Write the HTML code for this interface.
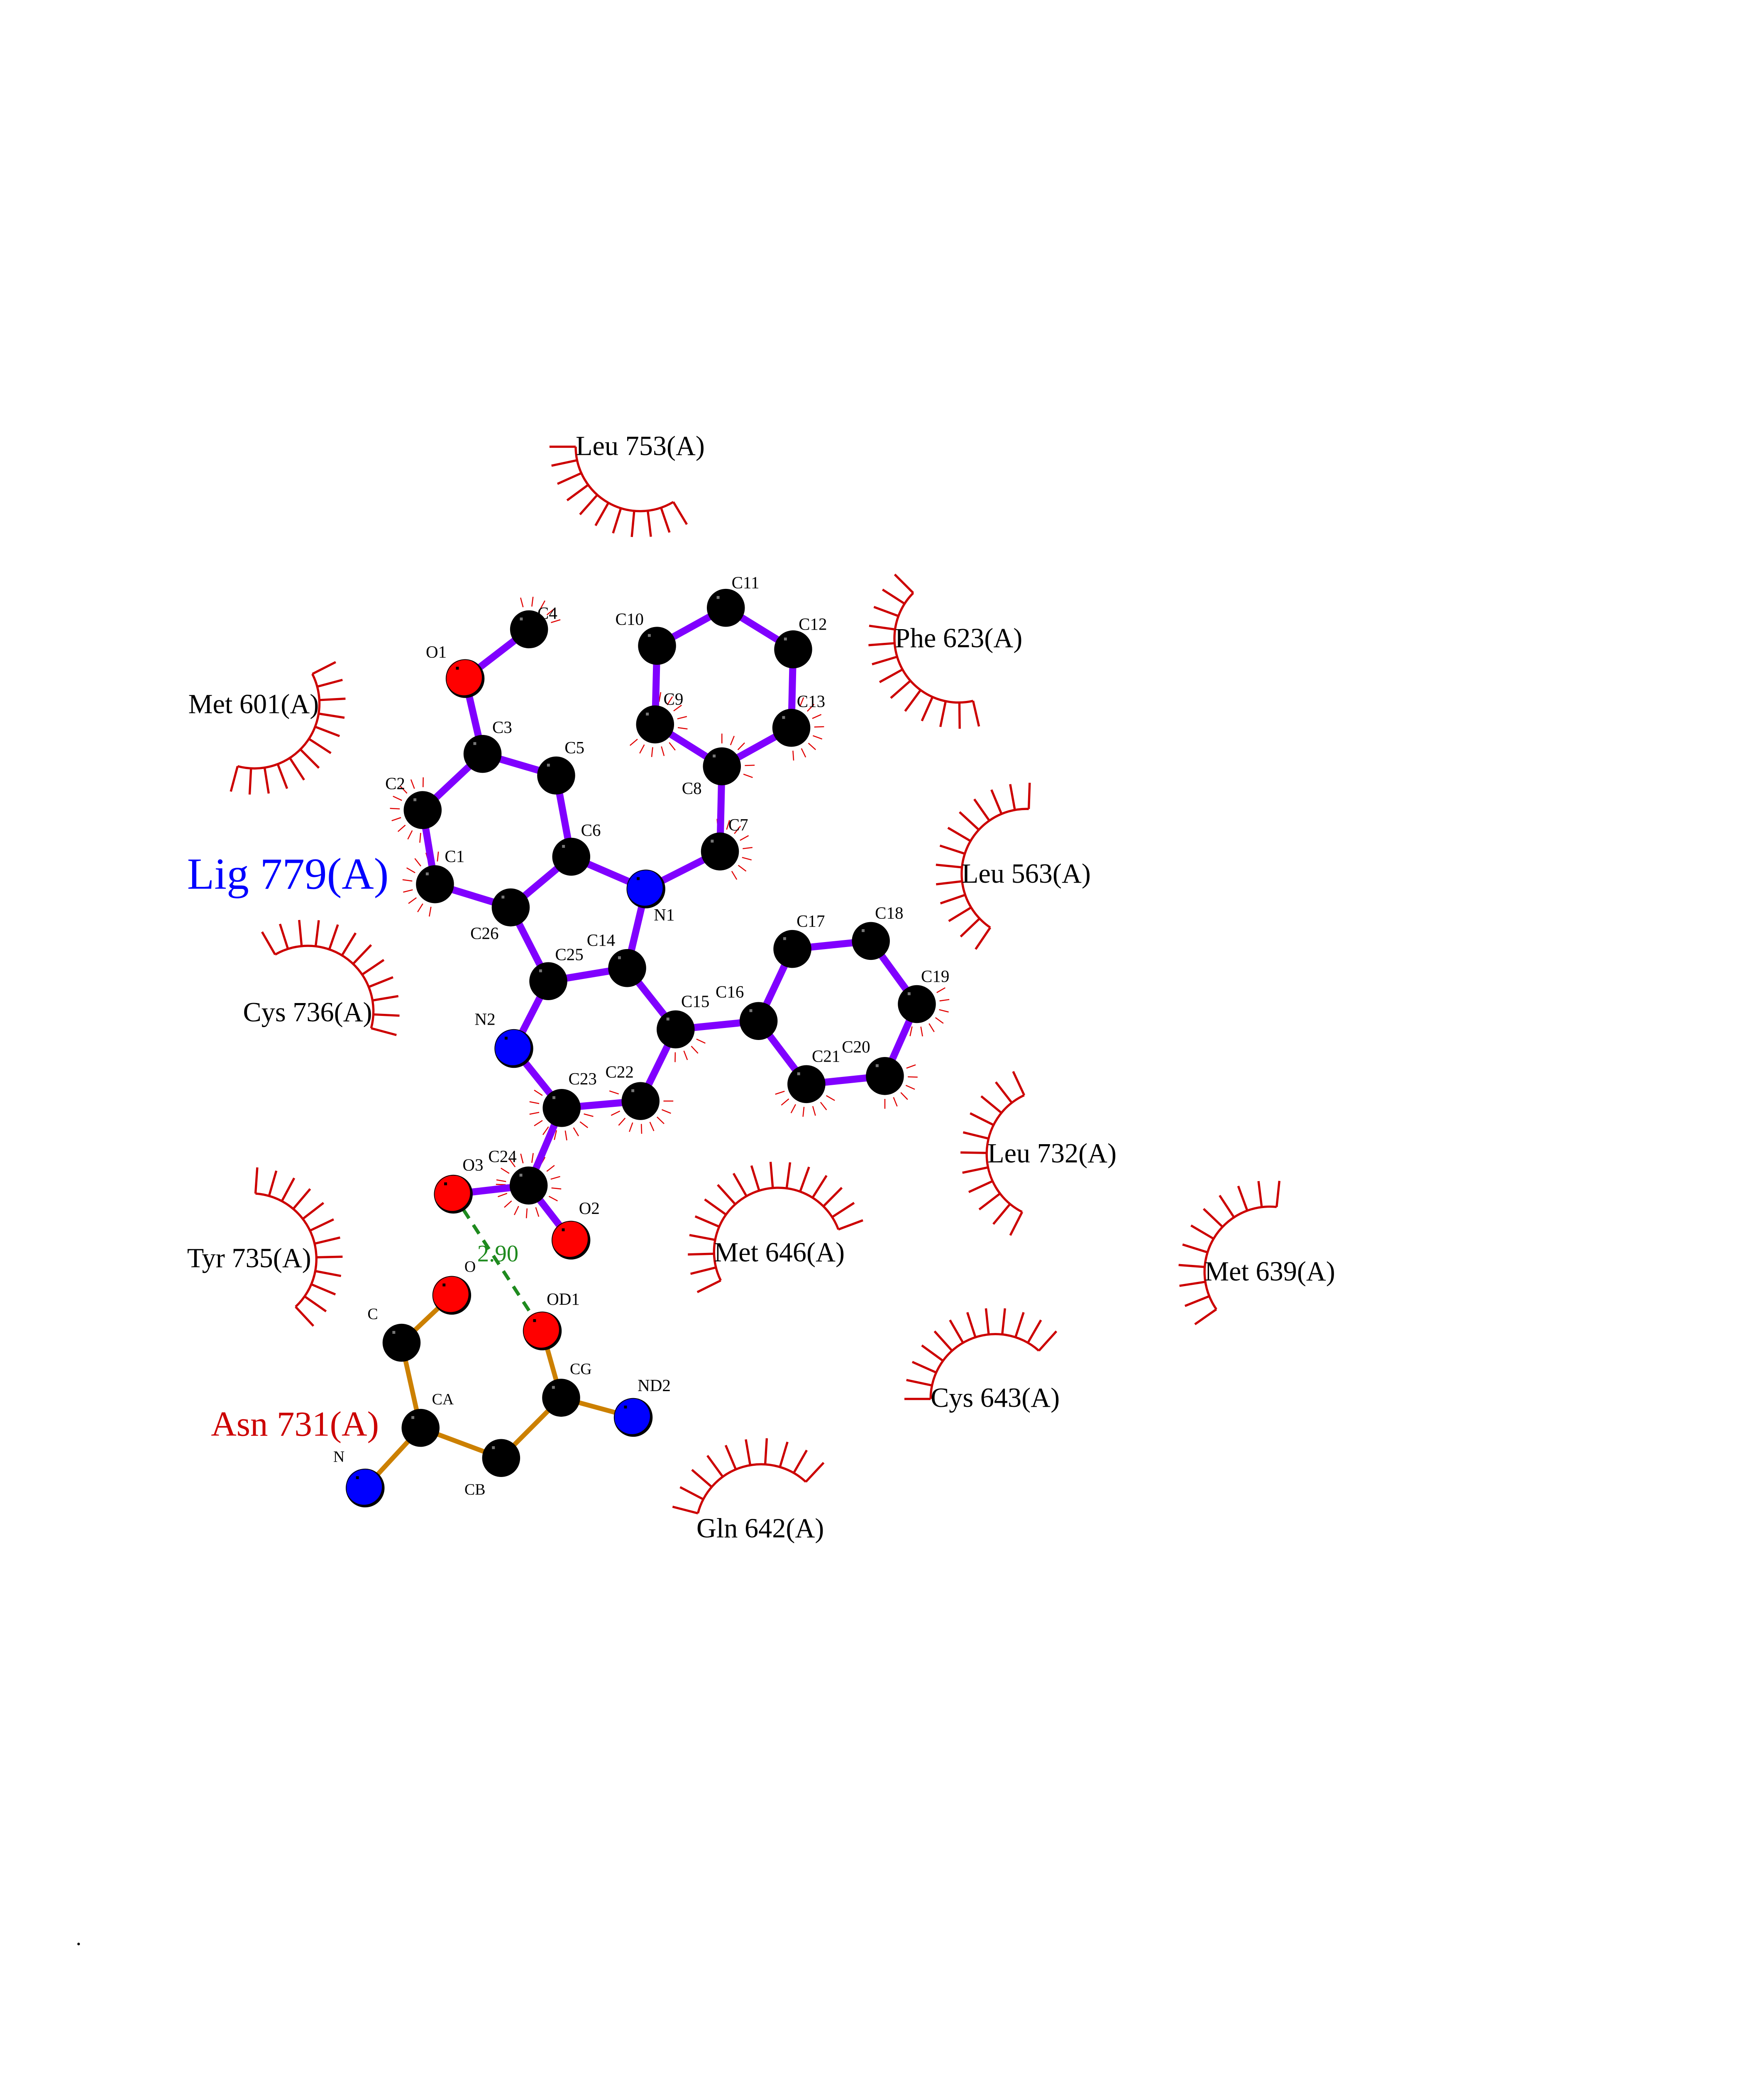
<!DOCTYPE html>
<html><head><meta charset="utf-8">
<style>
html,body{margin:0;padding:0;background:#fff;width:100%;height:100%;overflow:hidden;}
svg{display:block;position:absolute;left:0;top:0;height:100vh;width:calc(100vh * 4250 / 5500);}
text{font-family:"Liberation Serif",serif;}
</style></head>
<body>
<svg id="s" xmlns="http://www.w3.org/2000/svg" viewBox="0 0 1224 1584" preserveAspectRatio="xMinYMin meet">
<rect width="1224" height="1584" fill="#fff"/>
<g id="arcs" fill="none" stroke="#cc0000" stroke-width="1.7"></g>
<g id="ticks" stroke="#e00000" stroke-width="0.8"></g>
<g id="bonds" stroke-linecap="butt"></g>
<line x1="346" y1="911.6" x2="413.9" y2="1016" stroke="#1e8a1e" stroke-width="2.6" stroke-dasharray="8,6"/>
<g id="atoms"></g>
<g id="labels" font-size="13" fill="#000" text-anchor="middle"></g>
<text x="380" y="963" font-size="18" fill="#1e8a1e" text-anchor="middle">2.90</text>
<g font-size="21" fill="#000">
<text x="439.4" y="347.4">Leu 753(A)</text>
<text x="683" y="494">Phe 623(A)</text>
<text x="143.7" y="544.4">Met 601(A)</text>
<text x="734" y="673.8">Leu 563(A)</text>
<text x="185.5" y="779.7">Cys 736(A)</text>
<text x="753.7" y="887.4">Leu 732(A)</text>
<text x="545" y="963">Met 646(A)</text>
<text x="142.8" y="967.4">Tyr 735(A)</text>
<text x="919.4" y="977.5">Met 639(A)</text>
<text x="710.3" y="1074">Cys 643(A)</text>
<text x="531.6" y="1173.6">Gln 642(A)</text>
</g>
<text x="142.8" y="678.5" font-size="34" fill="#0000ff">Lig 779(A)</text>
<text x="161" y="1096" font-size="27" fill="#cc0000">Asn 731(A)</text>
<circle cx="60" cy="1484" r="1" fill="#000"/>
</svg>
<script>
(function(){
var NS="http://www.w3.org/2000/svg";
function el(p,t,a,txt){var e=document.createElementNS(NS,t);for(var k in a)e.setAttribute(k,a[k]);if(txt!==undefined)e.textContent=txt;document.getElementById(p).appendChild(e);return e;}
var A={
C4:[403.8,480.4,'k'],O1:[355,518,'r'],C3:[368.3,575.5,'k'],C5:[424.5,592,'k'],C2:[322.6,618.4,'k'],C1:[332,675,'k'],
C6:[436,654,'k'],N1:[493,678.6,'b'],C7:[549.5,650,'k'],C8:[551,585,'k'],C9:[500,553,'k'],C10:[501.5,493,'k'],
C11:[554,464,'k'],C12:[605.4,495.7,'k'],C13:[604,555.6,'k'],C26:[389.8,692.7,'k'],C25:[418.5,749,'k'],C14:[478.7,739,'k'],
N2:[392.2,800.4,'b'],C15:[515.7,785.8,'k'],C16:[579,779.4,'k'],C17:[604.8,724.4,'k'],C18:[664.7,718.3,'k'],C19:[699.8,766.5,'k'],
C20:[675.4,821.4,'k'],C21:[615.5,827.6,'k'],C23:[428.7,845.8,'k'],C22:[488.9,840.5,'k'],C24:[403.5,905,'k'],O3:[346,911.6,'r'],
O2:[435.8,946.7,'r'],
O:[344.8,988.8,'r'],C:[306.5,1025,'k'],OD1:[413.9,1016,'r'],CG:[428.3,1067,'k'],ND2:[483.3,1082,'b'],CA:[321,1090,'k'],CB:[382.5,1113,'k'],N:[278.7,1135.9,'b']
};
var lig=[['C4','O1'],['O1','C3'],['C3','C5'],['C3','C2'],['C2','C1'],['C1','C26'],['C26','C6'],['C6','C5'],['C6','N1'],['N1','C7'],['C7','C8'],['C8','C9'],['C9','C10'],['C10','C11'],['C11','C12'],['C12','C13'],['C13','C8'],['N1','C14'],['C14','C25'],['C25','C26'],['C25','N2'],['N2','C23'],['C23','C22'],['C22','C15'],['C15','C14'],['C15','C16'],['C16','C17'],['C17','C18'],['C18','C19'],['C19','C20'],['C20','C21'],['C21','C16'],['C23','C24'],['C24','O3'],['C24','O2']];
var asn=[['N','CA'],['CA','C'],['C','O'],['CA','CB'],['CB','CG'],['CG','OD1'],['CG','ND2']];
lig.forEach(function(b){var p=A[b[0]],q=A[b[1]];el('bonds','line',{x1:p[0],y1:p[1],x2:q[0],y2:q[1],stroke:'#8000ff','stroke-width':5.4});});
asn.forEach(function(b){var p=A[b[0]],q=A[b[1]];el('bonds','line',{x1:p[0],y1:p[1],x2:q[0],y2:q[1],stroke:'#cc8000','stroke-width':3.6});});
var col={k:'#000',r:'#ff0000',b:'#0000ff'};
for(var k in A){var a=A[k];
 if(a[2]=='k'){el('atoms','circle',{cx:a[0],cy:a[1],r:14.5,fill:'#000'});}
 else{el('atoms','circle',{cx:a[0],cy:a[1],r:14.5,fill:'#000'});
  el('atoms','circle',{cx:a[0]-0.9,cy:a[1]-0.9,r:13.7,fill:col[a[2]]});
  el('atoms','circle',{cx:a[0],cy:a[1],r:14.5,fill:'none',stroke:'#000','stroke-width':0.6});}
 el('atoms','rect',{x:a[0]-7,y:a[1]-9,width:2.2,height:2.2,fill:a[2]=='k'?'#777':'#000'});
}
var L={C4:[14,-12],O1:[-22,-20],C3:[15,-20],C5:[14,-21],C2:[-21,-20],C1:[15,-21],C6:[15,-20],N1:[14,20],C7:[14,-20],C8:[-23,17],C9:[14,-19],C10:[-21,-20],
C11:[15,-19],C12:[15,-19],C13:[15,-20],C26:[-20,20],C25:[16,-20],C14:[-20,-21],N2:[-22,-22],C15:[15,-21],C16:[-22,-22],C17:[14,-21],C18:[14,-21],C19:[14,-21],
C20:[-22,-22],C21:[15,-21],C23:[16,-22],C22:[-16,-22],C24:[-20,-22],O3:[15,-22],O2:[14,-24],O:[14,-22],C:[-22,-22],OD1:[16,-24],CG:[15,-22],ND2:[16,-24],CA:[17,-22],CB:[-20,24],N:[-20,-24]};
for(var k in L){var a=A[k];
 el('labels','text',{x:a[0]+L[k][0],y:a[1]+L[k][1]+4,'font-size':(k=='C'||k=='CA'||k=='CB'||k=='CG'||k=='N'||k=='O')?12:13},k);}
function arc(cx,cy,r,a0,a1){
 var rad=Math.PI/180;var sx=cx+r*Math.cos(a0*rad),sy=cy+r*Math.sin(a0*rad),ex=cx+r*Math.cos(a1*rad),ey=cy+r*Math.sin(a1*rad);
 var large=(a1-a0)>180?1:0;
 el('arcs','path',{d:'M'+sx+' '+sy+' A'+r+' '+r+' 0 '+large+' 1 '+ex+' '+ey});
 var n=Math.round((a1-a0)/12.5);
 for(var i=0;i<=n;i++){var t=(a0+(a1-a0)*i/n)*rad;
  el('arcs','line',{x1:cx+r*Math.cos(t),y1:cy+r*Math.sin(t),x2:cx+(r+20)*Math.cos(t),y2:cy+(r+20)*Math.sin(t)});}
}
arc(488.6,341,49.2,59,180);
arc(731.7,487.3,49,77,225);
arc(194.2,537,49.6,-27,105);
arc(783.5,667,49.5,124,272);
arc(235,772,50,240,375);
arc(802.7,881,49.6,117,245);
arc(594,955.7,49,153.6,339.5);
arc(191.5,961,50,-86,47);
arc(969.2,970.9,49.8,145,276);
arc(759.8,1067.9,49.5,180,312);
arc(581,1167.7,49.9,194.5,313);
function tk(name,a0,a1,step){var a=A[name];var rad=Math.PI/180;step=step||22;
 for(var t=a0;t<=a1+0.01;t+=step){var c=Math.cos(t*rad),s=Math.sin(t*rad);
  el('ticks','line',{x1:a[0]+17.5*c,y1:a[1]+17.5*s,x2:a[0]+25*c,y2:a[1]+25*s});}}
tk('C4',-105,0);tk('C2',95,280);tk('C1',100,295);tk('C9',-80,150);tk('C13',-90,105);tk('C8',-90,30);
tk('C7',-95,65);tk('C19',-30,120);tk('C20',-20,110);tk('C21',30,165);tk('C15',25,95);tk('C22',0,215);tk('C23',15,250);tk('C24',-170,190);
})();
</script>
</body></html>
